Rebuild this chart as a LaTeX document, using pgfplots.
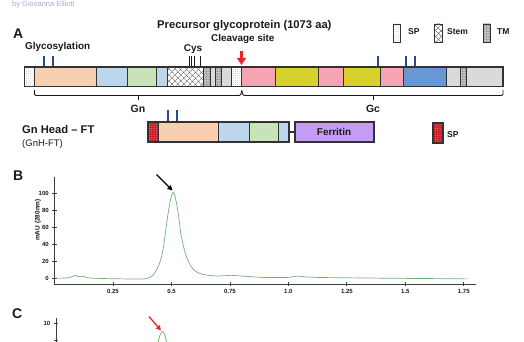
\documentclass[border=0pt]{standalone}
\usepackage{fontspec}
\setmainfont{Liberation Sans}
\usepackage{pgfplots}
\pgfplotsset{compat=1.18}
\usetikzlibrary{patterns,patterns.meta,arrows.meta}

\definecolor{peach}{RGB}{249,207,177}
\definecolor{lblue}{RGB}{190,214,236}
\definecolor{lgreen}{RGB}{200,227,184}
\definecolor{pinkc}{RGB}{246,163,178}
\definecolor{yellowc}{RGB}{214,209,43}
\definecolor{sblue}{RGB}{104,152,212}
\definecolor{lgray}{RGB}{218,218,218}
\definecolor{purplec}{RGB}{196,156,243}
\definecolor{spred}{RGB}{200,32,42}
\definecolor{bordercol}{RGB}{50,50,50}
\definecolor{navy}{RGB}{46,70,140}
\definecolor{redarrow}{RGB}{232,38,42}
\definecolor{textc}{RGB}{25,25,25}
\definecolor{axisgray}{RGB}{60,60,60}
\definecolor{curvegreen}{RGB}{112,176,112}
\definecolor{bylinec}{RGB}{160,170,205}

\newcommand{\fs}[1]{\fontsize{#1}{#1}\selectfont}
\newcommand{\rect}[5]{\path[#5] (axis cs:#1,#3) rectangle (axis cs:#2,#4);
  \draw[bordercol,line width=0.9pt] (axis cs:#1,#3) rectangle (axis cs:#2,#4);}

\tikzset{
  spf/.style={fill=white, postaction={pattern={Dots[radius=0.35pt,distance=2.2pt]}, pattern color=black!45}},
  tmf/.style={fill=gray!45, postaction={pattern={Dots[radius=0.4pt,distance=1.6pt]}, pattern color=black!60}},
  stemf/.style={fill=white,
    postaction={pattern={Lines[angle=45,distance=4pt,line width=0.5pt]}, pattern color=black!65},
    postaction={pattern={Lines[angle=-45,distance=4pt,line width=0.5pt]}, pattern color=black!65}},
  redspf/.style={fill=spred, postaction={pattern={Dots[radius=0.35pt,distance=2.2pt]}, pattern color=white!75!pink}},
  glyco/.style={navy, line width=1.3pt},
  lbl/.style={inner sep=0pt, text=textc},
}

\begin{document}
\begin{tikzpicture}
\path[use as bounding box, clip] (0pt,0pt) rectangle (524pt,342pt);

% ---------- canvas (schematic, pixel coordinates) ----------
\begin{axis}[at={(0pt,0pt)}, anchor=south west, width=524pt, height=342pt, scale only axis,
  xmin=0, xmax=524, ymin=0, ymax=342, y dir=reverse, hide axis, clip=false]

\node[lbl, anchor=base west, text=bylinec, font=\fs{7.5}] at (axis cs:12,6.2) {by Giovanna Elliott};

\node[lbl, anchor=base west, font=\fs{14}\bfseries] at (axis cs:13,38.3) {A};
\node[lbl, anchor=base west, font=\fs{11.2}\bfseries] at (axis cs:157,28.5) {Precursor glycoprotein (1073 aa)};
\node[lbl, anchor=base west, font=\fs{9.9}\bfseries] at (axis cs:211,41.5) {Cleavage site};
\node[lbl, anchor=base west, font=\fs{9.9}\bfseries] at (axis cs:25,49.5) {Glycosylation};
\node[lbl, anchor=base, font=\fs{9.9}\bfseries] at (axis cs:193,52) {Cys};

% legend
\rect{393}{400}{24}{42}{spf}
\node[lbl, anchor=base west, font=\fs{8.5}\bfseries] at (axis cs:408,35) {SP};
\rect{434}{442}{24}{42}{stemf}
\node[lbl, anchor=base west, font=\fs{8.5}\bfseries] at (axis cs:447,35) {Stem};
\rect{483}{490}{24}{42}{tmf}
\node[lbl, anchor=base west, font=\fs{8.5}\bfseries] at (axis cs:497,35) {TM};

% glycosylation and Cys marks
\draw[glyco] (axis cs:44,56) -- (axis cs:44,67);
\draw[glyco] (axis cs:53,56) -- (axis cs:53,67);
\draw[glyco] (axis cs:378,56) -- (axis cs:378,67);
\draw[glyco] (axis cs:406,56) -- (axis cs:406,67);
\draw[glyco] (axis cs:415,56) -- (axis cs:415,67);
\draw[textc, line width=0.9pt] (axis cs:189,56.5) -- (axis cs:189,67);
\draw[textc, line width=0.9pt] (axis cs:191.5,56.5) -- (axis cs:191.5,67);
\draw[textc, line width=0.9pt] (axis cs:194,56.5) -- (axis cs:194,67);
\draw[textc, line width=0.9pt] (axis cs:200,56.5) -- (axis cs:200,67);

% precursor bar
\rect{24.5}{34.5}{67}{86.5}{spf}
\rect{34.5}{96.5}{67}{86.5}{fill=peach}
\rect{96.5}{127}{67}{86.5}{fill=lblue}
\rect{127}{156}{67}{86.5}{fill=lgreen}
\rect{156}{167.5}{67}{86.5}{fill=lblue}
\rect{167.5}{203.5}{67}{86.5}{stemf}
\rect{203.5}{210}{67}{86.5}{tmf}
\rect{210}{215}{67}{86.5}{fill=lgray}
\rect{215}{221.5}{67}{86.5}{tmf}
\rect{221.5}{231}{67}{86.5}{fill=lgray}
\rect{231}{241.5}{67}{86.5}{spf}
\rect{241.5}{275}{67}{86.5}{fill=pinkc}
\rect{275}{318}{67}{86.5}{fill=yellowc}
\rect{318}{343}{67}{86.5}{fill=pinkc}
\rect{343}{380}{67}{86.5}{fill=yellowc}
\rect{380}{403}{67}{86.5}{fill=pinkc}
\rect{403}{446}{67}{86.5}{fill=sblue}
\rect{446}{460}{67}{86.5}{fill=lgray}
\rect{460}{466}{67}{86.5}{tmf}
\rect{466}{503}{67}{86.5}{fill=lgray}
\draw[bordercol, line width=1.4pt] (axis cs:24.5,67) rectangle (axis cs:503,86.5);

% cleavage arrow
\draw[redarrow, line width=2.2pt, -{Triangle[width=9pt,length=7pt]}] (axis cs:241.5,51) -- (axis cs:241.5,65);

% brackets
\draw[textc, line width=0.9pt, rounded corners=1.2pt] (axis cs:34.5,90) -- (axis cs:34.5,95.5) -- (axis cs:240.5,95.5) -- (axis cs:241.8,90.5);
\draw[textc, line width=0.9pt, rounded corners=1.2pt] (axis cs:241.8,90.5) -- (axis cs:243,95.5) -- (axis cs:503,95.5) -- (axis cs:503,90);
\draw[textc, line width=0.9pt] (axis cs:138,95.5) -- (axis cs:138,100);
\draw[textc, line width=0.9pt] (axis cs:373,95.5) -- (axis cs:373,100);
\node[lbl, anchor=base, font=\fs{10.5}\bfseries] at (axis cs:138,113) {Gn};
\node[lbl, anchor=base, font=\fs{10.5}\bfseries] at (axis cs:373,113) {Gc};

% Gn head - FT
\node[lbl, anchor=base west, font=\fs{11.2}\bfseries] at (axis cs:22,134) {Gn Head – FT};
\node[lbl, anchor=base west, font=\fs{9.5}] at (axis cs:22,146.5) {(GnH-FT)};
\draw[glyco] (axis cs:168,110) -- (axis cs:168,122);
\draw[glyco] (axis cs:177,110) -- (axis cs:177,122);
\rect{148}{158}{122}{142}{redspf}
\rect{158}{218}{122}{142}{fill=peach}
\rect{218}{249}{122}{142}{fill=lblue}
\rect{249}{278}{122}{142}{fill=lgreen}
\rect{278}{289}{122}{142}{fill=lblue}
\draw[bordercol, line width=1.4pt] (axis cs:148,122) rectangle (axis cs:289,142);
\draw[bordercol, line width=1.4pt] (axis cs:289,132) -- (axis cs:295,132);
\filldraw[fill=purplec, draw=bordercol, line width=1.4pt] (axis cs:295,122) rectangle (axis cs:374,142);
\node[lbl, anchor=base, font=\fs{9.9}\bfseries] at (axis cs:334,135.5) {Ferritin};
\rect{433}{443}{123}{143}{redspf}
\draw[bordercol, line width=1.4pt] (axis cs:433,123) rectangle (axis cs:443,143);
\node[lbl, anchor=base west, font=\fs{8.5}\bfseries] at (axis cs:447,137.5) {SP};

% panel letters and annotations
\node[lbl, anchor=base west, font=\fs{14}\bfseries] at (axis cs:13,180) {B};
\node[lbl, anchor=base west, font=\fs{14}\bfseries] at (axis cs:12,318.3) {C};
\node[lbl, rotate=90, font=\fs{6.5}\bfseries] at (axis cs:38,220) {mAU (280nm)};
\draw[black, line width=1.3pt, -{Triangle[width=5pt,length=5pt]}] (axis cs:156.5,174.5) -- (axis cs:172.5,190.5);
\draw[redarrow, line width=1.3pt, -{Triangle[width=5pt,length=5pt]}] (axis cs:149,316.5) -- (axis cs:161,330.5);
\end{axis}

% ---------- panel B chromatogram ----------
\begin{axis}[at={(54.5pt,58pt)}, anchor=south west, width=421pt, height=107pt, scale only axis,
  xmin=0, xmax=1.8, ymin=-7, ymax=119,
  axis x line*=bottom, axis y line*=left,
  axis line style={line width=0.9pt, draw=axisgray, -},
  xtick={0.25,0.5,0.75,1,1.25,1.5,1.75},
  xticklabels={0.25,0.5,0.75,1.0,1.25,1.5,1.75},
  ytick={0,20,40,60,80,100},
  tick align=center, major tick length=4.5pt,
  tick style={line width=0.8pt, draw=axisgray},
  ticklabel style={font=\fs{6}\bfseries, text=textc},
  /pgf/number format/assume math mode=true]
\addplot[smooth, tension=0.4, curvegreen, line width=0.7pt] coordinates {
(0.000,0.0)(0.020,-0.1)(0.040,0.0)(0.060,0.3)(0.075,1.8)(0.088,3.0)(0.098,2.2)(0.109,1.4)
(0.123,2.2)(0.138,0.5)(0.160,-0.1)(0.200,-0.5)(0.250,-0.8)(0.300,-1.0)(0.350,-1.2)(0.385,-1.0)
(0.395,-0.4)(0.405,0.6)(0.415,2.0)(0.425,4.5)(0.435,9.0)(0.445,14.5)(0.455,22.5)(0.465,35.0)
(0.475,55.0)(0.485,75.0)(0.493,88.0)(0.500,97.0)(0.507,101.0)(0.514,97.5)(0.521,89.0)(0.530,74.0)
(0.540,53.0)(0.550,39.0)(0.560,28.5)(0.570,21.0)(0.580,15.5)(0.590,11.5)(0.600,8.8)(0.615,6.0)
(0.630,4.6)(0.650,3.5)(0.680,2.7)(0.706,2.4)(0.730,2.8)(0.750,3.2)(0.780,2.8)(0.820,2.0)
(0.860,1.2)(0.900,0.7)(0.950,0.6)(1.000,0.8)(1.030,2.0)(1.050,2.2)(1.080,1.2)(1.150,0.6)
(1.250,0.3)(1.350,0.0)(1.500,-0.4)(1.650,-0.7)(1.770,-1.0)};
\end{axis}

% ---------- panel C chromatogram (cut off by the picture's lower edge) ----------
\begin{axis}[at={(56pt,-83pt)}, anchor=south west, width=421pt, height=107.1pt, scale only axis,
  xmin=0, xmax=1.8, ymin=-1.9, ymax=10.7,
  axis x line*=bottom, axis y line*=left,
  axis line style={line width=0.9pt, draw=axisgray, -},
  xtick={0.25,0.5,0.75,1,1.25,1.5,1.75},
  xticklabels={},
  ytick={8,10}, yticklabels={,10},
  tick align=center, major tick length=4.5pt,
  tick style={line width=0.8pt, draw=axisgray},
  ticklabel style={font=\fs{6}\bfseries, text=textc},
  /pgf/number format/assume math mode=true]
\addplot[smooth, tension=0.4, curvegreen, line width=0.7pt] coordinates {
(0.000,0.0)(0.100,0.1)(0.200,0.0)(0.300,0.0)(0.350,0.05)(0.375,0.2)(0.395,1.9)(0.415,4.55)
(0.425,6.2)(0.435,7.65)(0.445,8.7)(0.455,9.1)(0.465,8.7)(0.475,7.65)(0.485,6.2)(0.495,4.55)
(0.515,1.9)(0.535,0.6)(0.560,0.1)(0.700,0.0)(1.000,0.0)(1.500,0.0)(1.770,0.0)};
\end{axis}
\end{tikzpicture}
\end{document}
